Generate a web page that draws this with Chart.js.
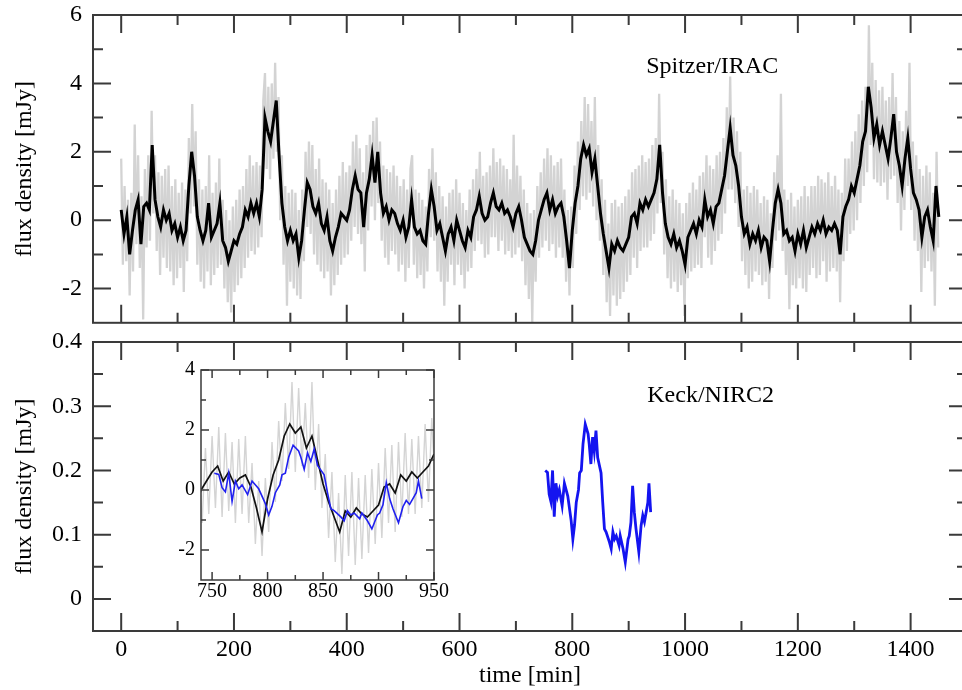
<!DOCTYPE html>
<html><head><meta charset="utf-8">
<script src="https://cdn.jsdelivr.net/npm/chart.js@4.4.1/dist/chart.umd.min.js"></script>
<style>
html,body{margin:0;padding:0;background:#fff;overflow:hidden;width:962px;height:690px;position:relative;}
canvas{position:absolute;}
</style></head><body>
<canvas id="cTop" width="970" height="335" style="left:0;top:0"></canvas>
<canvas id="cBot" width="970" height="370" style="left:0;top:320px"></canvas>
<canvas id="cIns" width="310" height="265" style="left:150px;top:355px"></canvas>
<script>
// ---------- data ----------
const RAW_STEP = 3;    // minutes between raw Spitzer samples (start 0)
const SMOOTH_STEP = 5; // minutes between smoothed Spitzer samples (start 0)

// raw Spitzer/IRAC light curve [mJy]
const iracRaw = [
 1.8,-1.3,1.0,-1.2,0.6,-2.2,0.8,-1.5,2.8,-0.7,
 1.9,-1.4,0.7,-2.9,1.5,-0.8,1.9,-0.6,3.2,0.2,
 1.9,-0.9,1.4,-1.6,1.3,-1.1,1.5,-1.4,1.6,-1.5,
 1.0,-1.9,1.2,-1.7,0.8,-1.4,1.1,-2.1,0.9,-1.2,
 2.4,0.2,3.4,0.4,2.6,-1.3,1.2,-1.8,0.9,-2.0,
 1.0,-1.5,1.9,-1.9,0.8,-1.6,1.1,-1.4,1.8,-1.3,
 0.6,-2.0,0.3,-2.4,0.0,-2.7,0.4,-2.1,0.6,-1.9,
 0.9,-1.7,1.0,-1.4,1.5,-1.1,1.9,-0.9,1.6,-1.0,
 1.7,-0.8,1.6,-0.5,3.5,4.3,1.5,3.9,1.2,4.0,
 1.8,4.6,2.0,3.6,0.0,1.9,-1.3,1.0,-2.5,0.8,
 -1.8,0.9,-2.0,0.8,-2.2,0.3,-2.3,0.9,-1.2,2.0,
 -0.2,2.3,-0.4,2.2,-1.0,1.5,-1.3,1.8,-1.5,1.2,
 -1.7,1.1,-1.5,0.9,-2.2,0.5,-1.9,0.9,-1.6,1.3,
 -1.3,1.7,-1.1,1.4,-1.0,1.6,-0.6,2.3,-0.2,2.5,
 -0.4,2.1,-0.7,1.4,-1.5,2.2,-0.3,2.5,0.4,2.9,
 0.0,3.0,0.5,2.3,-0.6,1.6,-1.1,1.5,-1.3,1.4,
 -0.9,1.6,-1.0,1.3,-1.5,1.0,-1.3,1.2,-1.8,0.9,
 -1.4,1.5,1.9,-1.3,0.9,-1.7,0.8,-1.6,0.6,-2.0,
 0.4,-1.5,1.5,-0.5,2.1,-0.6,1.4,-1.5,1.0,-1.8,
 0.7,-2.5,0.4,-1.8,0.8,-1.3,0.9,-1.9,1.2,-1.3,
 0.8,-1.6,0.5,-2.0,0.3,-1.5,0.9,-1.4,1.2,-0.9,
 1.5,-0.6,2.0,-0.7,1.3,-1.1,1.4,-1.0,1.6,-0.5,
 2.1,-0.5,1.7,-0.9,1.8,-0.6,1.6,-1.0,1.5,-0.9,
 1.2,-1.1,2.5,-1.0,1.6,-0.8,1.3,-1.2,0.9,-1.9,
 0.5,-2.3,0.2,-3.0,0.3,-1.8,1.0,-1.1,1.4,-0.8,
 1.8,-0.6,2.1,-0.9,1.9,-0.7,1.6,-1.1,1.7,-0.8,
 1.8,-1.1,0.9,-1.8,0.3,-2.2,0.4,-1.4,1.6,-0.4,
 2.3,0.3,2.9,0.7,3.6,0.6,3.4,0.8,2.9,0.4,
 3.6,0.0,2.2,-0.6,1.2,-1.6,0.6,-2.4,-0.1,-2.8,
 0.5,-2.2,0.6,-2.5,0.4,-2.3,0.5,-2.1,0.7,-1.8,
 0.9,-1.6,1.4,-1.1,1.5,-1.4,1.6,-0.9,1.9,-0.8,
 1.7,-0.8,1.8,-0.6,2.2,-0.4,2.4,0.2,3.7,0.5,
 2.0,-1.0,1.2,-1.7,0.7,-2.0,0.9,-1.8,0.6,-2.1,
 0.5,-1.9,0.2,-2.8,0.5,-1.7,0.8,-1.5,1.1,-1.4,
 0.9,-1.3,1.3,-1.4,1.4,-0.5,1.9,-1.1,1.6,-1.3,
 1.5,-0.9,1.9,-0.6,2.0,-0.4,2.4,0.2,3.3,0.9,
 4.2,0.9,3.0,0.5,2.6,-0.2,2.0,-1.2,0.9,-1.6,
 1.0,-2.0,0.8,-1.8,1.0,-1.5,0.9,-1.6,0.5,-1.9,
 0.7,-1.8,0.6,-2.3,0.2,-1.4,1.4,-0.6,1.9,-0.3,
 3.7,-0.9,0.9,-1.6,0.6,-2.6,0.8,-1.9,0.4,-2.0,
 0.6,-1.7,0.7,-2.0,1.0,-2.1,0.7,-1.6,1.0,-1.4,
 1.0,-1.7,1.3,-1.6,1.2,-1.2,1.1,-1.8,1.4,-1.5,
 1.0,-1.4,1.3,-1.5,0.9,-2.4,0.8,-1.2,1.8,-0.9,
 1.8,-0.4,2.3,-0.3,2.6,0.0,3.1,0.5,3.5,1.0,
 3.9,1.4,5.7,2.2,4.6,1.2,4.1,1.1,3.8,1.0,
 3.9,1.1,3.5,0.6,3.6,1.2,4.3,1.3,3.6,0.5,
 2.9,-0.3,2.6,0.3,3.2,1.0,4.6,0.3,2.3,-0.6,
 1.9,-0.9,1.5,-2.1,1.3,-1.4,1.6,-1.2,1.4,-1.5,
 0.8,-2.5,2.0,-0.8
];

// smoothed Spitzer/IRAC light curve [mJy]
const iracSmooth = [
 0.3,-0.4,0.1,-1.0,-0.3,0.3,0.6,-0.7,
 0.4,0.5,0.3,2.2,0.6,0.1,-0.2,0.3,
 0.0,0.2,-0.3,-0.1,-0.5,-0.2,-0.6,-0.3,
 1.0,2.0,1.3,0.1,-0.3,-0.6,-0.3,0.5,
 -0.5,-0.3,-0.1,0.5,-0.6,-0.8,-1.2,-0.9,
 -0.6,-0.7,-0.4,-0.2,0.3,0.1,0.5,0.2,
 0.5,0.1,0.9,3.0,2.6,2.3,2.9,3.5,
 1.9,0.5,-0.2,-0.6,-0.3,-0.6,-0.4,-1.1,
 -0.6,0.3,1.1,0.9,0.4,0.2,0.5,-0.1,
 -0.3,0.1,-0.6,-0.9,-0.5,-0.2,0.2,0.1,
 0.0,0.3,0.9,1.3,0.9,0.8,-0.2,0.8,
 1.2,1.9,1.1,2.0,0.8,0.2,0.4,0.0,
 0.3,0.2,-0.1,-0.3,0.0,-0.5,-0.2,0.6,
 -0.2,-0.4,-0.3,-0.6,-0.7,0.2,0.9,0.4,
 -0.3,-0.1,-0.5,-0.9,-0.4,-0.2,-0.6,0.0,
 -0.3,-0.6,-0.8,-0.3,-0.5,0.1,0.3,0.7,
 0.2,0.0,0.1,0.5,0.8,0.4,0.3,0.5,
 0.2,0.3,0.1,-0.2,0.2,0.4,0.0,-0.5,
 -0.7,-0.9,-1.0,-0.6,0.0,0.3,0.6,0.8,
 0.3,0.6,0.2,0.4,0.5,0.1,-0.6,-1.4,
 -0.3,0.5,1.0,1.8,2.2,1.9,2.1,1.4,
 1.8,1.0,0.2,-0.4,-0.9,-1.4,-0.7,-0.9,
 -0.6,-0.8,-0.9,-0.7,-0.5,0.1,0.2,-0.1,
 0.5,0.3,0.6,0.4,0.6,0.8,1.2,2.2,
 0.8,-0.1,-0.5,-0.7,-0.4,-0.8,-0.6,-0.9,
 -1.3,-0.5,-0.3,-0.1,-0.4,0.0,-0.2,0.6,
 0.1,0.3,-0.1,0.4,0.5,0.9,1.3,2.0,
 2.7,1.9,1.6,1.0,0.1,-0.4,-0.2,-0.7,
 -0.4,-0.6,-0.3,-0.8,-0.5,-0.6,-1.2,-0.3,
 0.5,0.9,0.5,-0.4,-0.3,-0.6,-0.5,-0.9,
 -0.4,-0.7,-0.3,-0.8,-0.5,-0.2,-0.4,-0.1,
 -0.3,0.0,-0.4,-0.2,-0.3,-0.1,-0.3,-1.0,
 0.1,0.4,0.6,1.0,0.8,1.2,1.6,2.3,
 2.6,3.9,3.3,2.4,2.8,2.2,2.6,2.2,
 1.8,2.4,3.1,2.0,1.6,1.0,1.8,2.4,
 1.5,0.8,0.6,0.3,-0.5,0.1,0.3,-0.2,
 -0.6,1.0,0.1
];

// Keck/NIRC2 light curve
const keckTime = [752,756,759,762,765,768,771,774,777,782,786,792,798,801,804,807,811,813,816,819,823,828,830,833,836,839,842,845,851,854,857,860,866,869,872,875,878,883,885,890,894,899,901,904,907,910,913,918,922,925,928,931,934,936,939];
const keckFlux = [0.200,0.197,0.163,0.152,0.200,0.128,0.180,0.160,0.170,0.145,0.180,0.160,0.122,0.093,0.115,0.150,0.170,0.196,0.200,0.241,0.272,0.257,0.241,0.210,0.252,0.230,0.262,0.220,0.196,0.150,0.109,0.104,0.088,0.078,0.104,0.093,0.098,0.083,0.098,0.078,0.057,0.093,0.098,0.119,0.176,0.135,0.109,0.073,0.114,0.130,0.120,0.135,0.150,0.180,0.135];
// Keck curve rescaled to the Spitzer flux scale in the inset
const KECK_SCALE = 13.0, KECK_OFFSET = -2.04;

// tick labels
const timeTicks = [0,200,400,600,800,1000,1200,1400];
const timeMinor = [100,300,500,700,900,1100,1300,1500];
const iracTicks = [-2,0,2,4,6];
const iracMinor = [-1,1,3,5];
const keckTicks = [0,0.1,0.2,0.3,0.4];
const keckMinor = [0.05,0.15,0.25,0.35];
const insetTimeTicks = [750,800,850,900,950];
const insetTimeMinor = [775,825,875,925];
const insetFluxTicks = [-2,0,2,4];
const insetFluxMinor = [-1,1,3];

// ---------- helpers ----------
const rawPts = iracRaw.map((v,i)=>({x:i*RAW_STEP,y:v}));
const smoothPts = iracSmooth.map((v,i)=>({x:i*SMOOTH_STEP,y:v}));
const keckPts = keckTime.map((t,i)=>({x:t,y:keckFlux[i]}));
const keckInsetPts = keckTime.map((t,i)=>({x:t,y:keckFlux[i]*KECK_SCALE+KECK_OFFSET}));

const SERIF = '"Liberation Serif","DejaVu Serif",serif';
const FRAME = '#3a3a3a';

const framePlugin = {
  id:'frame',
  afterDatasetsDraw(chart, args, o){
    const {ctx, chartArea:a, scales} = chart;
    const x = scales.x, y = scales.y;
    ctx.save();
    ctx.strokeStyle = FRAME;
    ctx.lineWidth = o.lw;
    ctx.strokeRect(a.left, a.top, a.right-a.left, a.bottom-a.top);
    ctx.beginPath();
    const xt = (vals,len)=>vals.forEach(v=>{const p=x.getPixelForValue(v);
      ctx.moveTo(p,a.bottom);ctx.lineTo(p,a.bottom-len);ctx.moveTo(p,a.top);ctx.lineTo(p,a.top+len);});
    const yt = (vals,len)=>vals.forEach(v=>{const p=y.getPixelForValue(v);
      ctx.moveTo(a.left,p);ctx.lineTo(a.left+len,p);ctx.moveTo(a.right,p);ctx.lineTo(a.right-len,p);});
    xt(o.xMajor,o.major); xt(o.xMinor,o.minor); yt(o.yMajor,o.major); yt(o.yMinor,o.minor);
    ctx.stroke();
    (o.labels||[]).forEach(l=>{
      ctx.font = '24px '+SERIF; ctx.fillStyle='#000'; ctx.textAlign='left'; ctx.textBaseline='middle';
      ctx.fillText(l.text, x.getPixelForValue(l.x), y.getPixelForValue(l.y));
    });
    ctx.restore();
  }
};

function lineDs(data,color,width,order){
  return {data, borderColor:color, borderWidth:width, pointRadius:0, tension:0, fill:false, order};
}
function setTicks(arr){ return s=>{ s.ticks = arr.map(v=>({value:v})); }; }
const fmt = v => (Math.abs(v)<1e-9 ? '0' : String(Math.round(v*100)/100));

function mainOptions(cfg){
  return {
    responsive:false, animation:false,
    layout:{padding:cfg.pad},
    plugins:{legend:{display:false}, tooltip:{enabled:false}, frame:cfg.frame},
    scales:{
      x:{type:'linear', min:cfg.xmin, max:cfg.xmax,
         afterBuildTicks:setTicks(cfg.xTicks),
         afterFit:s=>{s.height=cfg.xh;},
         grid:{display:false, drawTicks:false}, border:{display:false},
         ticks:{display:cfg.xLabels, autoSkip:false, maxRotation:0, padding:cfg.xpad, color:'#000',
                font:{family:SERIF,size:cfg.fs,lineHeight:1}, callback:fmt},
         title:{display:!!cfg.xTitle, text:cfg.xTitle||'', color:'#000', padding:{top:0,bottom:0},
                font:{family:SERIF,size:24,lineHeight:1.2}}},
      y:{type:'linear', min:cfg.ymin, max:cfg.ymax,
         afterBuildTicks:setTicks(cfg.yTicks),
         afterFit:s=>{s.width=cfg.yw;},
         grid:{display:false, drawTicks:false}, border:{display:false},
         ticks:{autoSkip:false, padding:cfg.ypad, color:'#000',
                font:{family:SERIF,size:cfg.fs,lineHeight:0.1}, callback:fmt},
         title:{display:!!cfg.yTitle, text:cfg.yTitle||'', color:'#000', padding:{top:10.6,bottom:0},
                font:{family:SERIF,size:24,lineHeight:1.2}}}
    }
  };
}

// ---------- top panel: Spitzer ----------
new Chart(document.getElementById('cTop'), {
  type:'line',
  data:{datasets:[ lineDs(smoothPts,'#000',3,0), lineDs(rawPts,'#d3d3d3',2.3,1) ]},
  options:mainOptions({pad:{top:15,right:3,bottom:11,left:0}, xmin:-50,xmax:1500, ymin:-3,ymax:6,
    xTicks:timeTicks, yTicks:iracTicks, xh:0, yw:93, xLabels:false, xpad:0, ypad:11, fs:24,
    yTitle:'flux density [mJy]',
    frame:{lw:2, major:18, minor:10, xMajor:timeTicks, xMinor:timeMinor, yMajor:iracTicks, yMinor:iracMinor,
           labels:[{text:'Spitzer/IRAC', x:931, y:4.5}]}}),
  plugins:[framePlugin]
});

// ---------- bottom panel: Keck ----------
new Chart(document.getElementById('cBot'), {
  type:'line',
  data:{datasets:[ lineDs(keckPts,'#1414f0',2.8,0) ]},
  options:mainOptions({pad:{top:22,right:3,bottom:0,left:0}, xmin:-50,xmax:1500, ymin:-0.05,ymax:0.4,
    xTicks:timeTicks, yTicks:keckTicks, xh:59, yw:93, xLabels:true, xpad:7, ypad:11, fs:24,
    xTitle:'time [min]', yTitle:'flux density [mJy]',
    frame:{lw:2, major:18, minor:10, xMajor:timeTicks, xMinor:timeMinor, yMajor:keckTicks, yMinor:keckMinor,
           labels:[{text:'Keck/NIRC2', x:933, y:0.317}]}}),
  plugins:[framePlugin]
});

// ---------- inset ----------
new Chart(document.getElementById('cIns'), {
  type:'line',
  data:{datasets:[
    lineDs(keckInsetPts,'#2020f0',1.6,0),
    lineDs(smoothPts,'#111',1.7,1),
    lineDs(rawPts,'#d4d4d4',1.4,2) ]},
  options:mainOptions({pad:{top:15,right:26,bottom:0,left:0}, xmin:740,xmax:950, ymin:-3,ymax:4,
    xTicks:insetTimeTicks, yTicks:insetFluxTicks, xh:40, yw:51, xLabels:true, xpad:2, ypad:6, fs:20,
    frame:{lw:1.5, major:8, minor:5, xMajor:insetTimeTicks, xMinor:insetTimeMinor, yMajor:insetFluxTicks, yMinor:insetFluxMinor}}),
  plugins:[framePlugin]
});
</script>
</body></html>
